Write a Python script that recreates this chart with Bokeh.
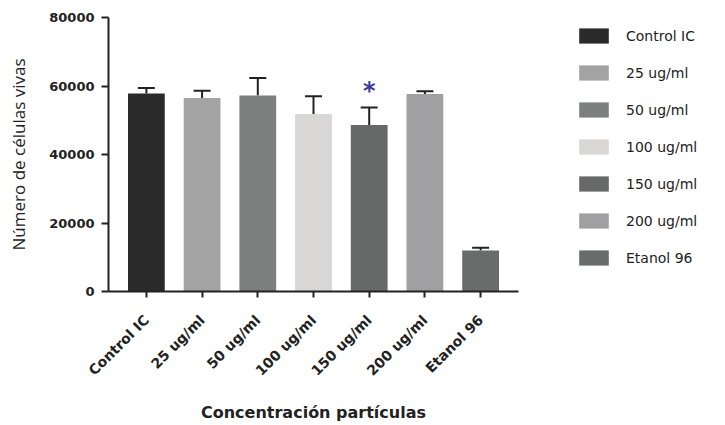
from bokeh.plotting import figure
from bokeh.models import (ColumnDataSource, FactorRange, Range1d, FixedTicker,
                          Whisker, TeeHead, Legend, LegendItem)
from bokeh.core.properties import value
from bokeh.embed import file_html
from bokeh.resources import INLINE

categories = ["Control IC", "25 ug/ml", "50 ug/ml", "100 ug/ml", "150 ug/ml", "200 ug/ml", "Etanol 96"]
means = [57800, 56500, 57200, 51800, 48600, 57700, 12000]
upper = [59400, 58600, 62300, 57000, 53700, 58500, 12800]
colors = ["#2a2a2a", "#a3a3a4", "#7e7f7f", "#d9d7d5", "#676868", "#a0a0a2", "#6a6b6b"]
sig = ["", "", "", "", "*", "", ""]
y_ticks = [0, 20000, 40000, 60000, 80000]

src = ColumnDataSource(dict(cat=categories, mean=means, upper=upper, color=colors))

p = figure(frame_width=410, frame_height=274, output_backend="svg", toolbar_location=None,
           x_range=FactorRange(factors=categories, range_padding=0.18, range_padding_units="absolute"),
           y_range=Range1d(0, 80000),
           min_border_left=108, min_border_right=191, min_border_top=17, min_border_bottom=126)
p.outline_line_color = None
p.grid.visible = False
p.background_fill_color = "white"

r = p.vbar(x="cat", top="mean", width=0.66, color="color", line_color=None, source=src)

w = Whisker(source=src, base="cat", upper="upper", lower="mean", line_width=2, line_color="#222222",
            upper_head=TeeHead(size=17, line_width=2, line_color="#222222"), lower_head=None)
p.add_layout(w)

sig_x = [c for c, s in zip(categories, sig) if s]
sig_y = [u + 4700 for u, s in zip(upper, sig) if s]
sig_t = [s for s in sig if s]
p.text(x=sig_x, y=sig_y, text=sig_t, text_color="#3b3c99", text_font=value("DejaVu Sans"),
       text_font_style="bold", text_font_size="24px", text_align="center", text_baseline="middle")

for ax in (p.xaxis[0], p.yaxis[0]):
    ax.axis_line_width = 2
    ax.axis_line_color = "#222222"
    ax.major_tick_line_width = 2
    ax.major_tick_line_color = "#222222"
    ax.minor_tick_line_color = None
    ax.major_label_text_font = "DejaVu Sans"
    ax.major_label_text_font_style = "bold"
    ax.major_label_text_color = "#222222"

p.yaxis.ticker = FixedTicker(ticks=y_ticks)
p.yaxis.major_tick_in = 0
p.yaxis.major_tick_out = 7
p.yaxis.major_label_standoff = 7
p.yaxis.major_label_text_font_size = "13px"
p.yaxis.axis_label = "Número de células vivas"
p.yaxis.axis_label_text_font = "Open Sans"
p.yaxis.axis_label_text_font_style = "normal"
p.yaxis.axis_label_text_font_size = "17px"
p.yaxis.axis_label_text_color = "#222222"
p.yaxis.axis_label_standoff = 16

p.xaxis.major_tick_in = 0
p.xaxis.major_tick_out = 6
p.xaxis.major_label_orientation = 0.785398
p.xaxis.major_label_standoff = 20
p.xaxis.major_label_text_font_size = "14px"
p.xaxis.axis_label = "Concentración partículas"
p.xaxis.axis_label_text_font = "DejaVu Sans"
p.xaxis.axis_label_text_font_style = "bold"
p.xaxis.axis_label_text_font_size = "16px"
p.xaxis.axis_label_text_color = "#222222"
p.xaxis.axis_label_standoff = 16

items = [LegendItem(label=c, renderers=[r], index=i) for i, c in enumerate(categories)]
legend = Legend(items=items, location=(57, 24), margin=0, padding=0, border_line_color=None,
                background_fill_alpha=0, glyph_width=37, glyph_height=19, label_height=15,
                label_standoff=14, spacing=18, label_text_font="DejaVu Sans",
                label_text_font_size="14px", label_text_color="#222222")
p.add_layout(legend, "right")

open("out.html", "w").write(file_html(p, INLINE))
